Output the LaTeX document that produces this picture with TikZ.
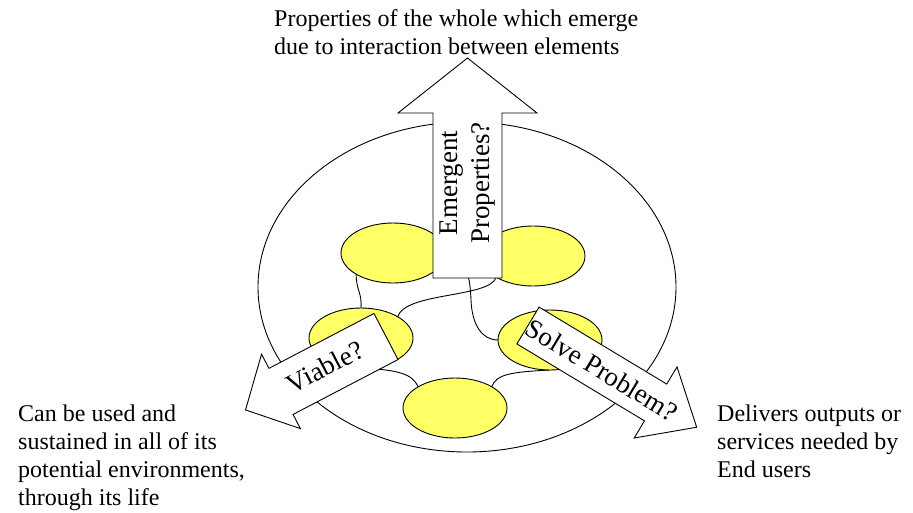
\documentclass[tikz,border=0pt]{standalone}
\usepackage{fontspec}
\setmainfont{Liberation Serif}
\usetikzlibrary{shapes.geometric}
\definecolor{elemyellow}{RGB}{255,255,102}
\tikzset{
  outline/.style={draw=black, line width=0.9pt},
  element/.style={ellipse, outline, fill=elemyellow, minimum width=104pt, minimum height=60pt, inner sep=0pt, outer sep=0pt},
  link/.style={draw=black, line width=0.9pt},
  blockarrow/.style={outline, fill=white, line join=miter},
  arrowlabel/.style={font=\fontsize{27}{32}\selectfont, inner sep=0pt, align=center},
  note/.style={font=\fontsize{24}{28}\selectfont, inner sep=0pt, align=left, anchor=base west}
}
\begin{document}
\begin{tikzpicture}[x=1pt, y=-1pt]
  \useasboundingbox[fill=white] (0,0) rectangle (913,512);

  % the system boundary
  \node[ellipse, outline, minimum width=418pt, minimum height=330pt, inner sep=0pt] (system) at (467,287) {};

  % interacting elements
  \coordinate (pe1) at (393,253);
  \coordinate (pe2) at (533,256);
  \coordinate (pe3) at (361,338);
  \coordinate (pe4) at (550,340);
  \coordinate (pe5) at (455,408);

  % links between elements (drawn first, so the elements sit on top)
  \path (pe1) node[element, fill=none, draw=none] (e1) {}
        (pe2) node[element, fill=none, draw=none] (e2) {}
        (pe3) node[element, fill=none, draw=none] (e3) {}
        (pe4) node[element, fill=none, draw=none] (e4) {}
        (pe5) node[element, fill=none, draw=none] (e5) {};
  \draw[link] (e1.south west) .. controls (356,290) and (362,292) .. (e3.north);
  \draw[link] (e2.south west) .. controls (490,298) and (405,292) .. (e3.north east);
  \draw[link] (e1.east) .. controls (468,256) and (470,280) .. (471,300)
                        .. controls (472,325) and (482,340) .. (e4.west);
  \draw[link] (e3.south) .. controls (400,370) and (412,374) .. (e5.north west);
  \draw[link] (e5.north east) .. controls (496,374) and (512,372) .. (e4.south);

  \node[element] at (pe1) {};
  \node[element] at (pe2) {};
  \node[element] at (pe3) {};
  \node[element] at (pe4) {};
  \node[element] at (pe5) {};

  % block arrows: local x runs from the tail to the tip
  \begin{scope}[shift={(467.5,278)}, rotate=90]
    \draw[blockarrow] (0,-34.5) -- (165,-34.5) -- (165,-69.5) -- (220,0)
      -- (165,69.5) -- (165,34.5) -- (0,34.5) -- cycle;
  \end{scope}
  \begin{scope}[shift={(386,336.5)}, rotate=207.6]
    \draw[blockarrow] (0,-26) -- (118.5,-26) -- (118.5,-42) -- (158.5,0)
      -- (118.5,42) -- (118.5,26) -- (0,26) -- cycle;
  \end{scope}
  \begin{scope}[shift={(528,325.5)}, rotate=-31.1]
    \draw[blockarrow] (0,-21.5) -- (149,-21.5) -- (149,-41.5) -- (197,0)
      -- (149,41.5) -- (149,21.5) -- (0,21.5) -- cycle;
  \end{scope}

  % arrow labels
  \node[arrowlabel, rotate=90] (emergent) at (468,183) {Emergent\\Properties?};
  \node[arrowlabel, rotate=27.6] (viable) at (325,367) {Viable?};
  \node[arrowlabel, rotate=-31.1] (solve) at (602,370) {Solve Problem?};

  % explanations (anchored at the baseline of their last line)
  \node[note] (topnote) at (274,54) {Properties of the whole which emerge\\due to interaction between elements};
  \node[note] (leftnote) at (18,505) {Can be used and\\sustained in all of its\\potential environments,\\through its life};
  \node[note] (rightnote) at (717,477) {Delivers outputs or\\services needed by\\End users};
\end{tikzpicture}
\end{document}
